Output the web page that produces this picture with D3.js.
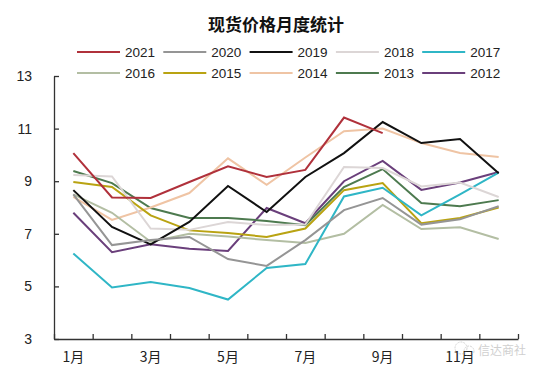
<!DOCTYPE html>
<html>
<head>
<meta charset="utf-8">
<script src="https://cdn.jsdelivr.net/npm/d3@7"></script>
<style>
  body { margin: 0; background: #fff; }
  text { font-family: "Liberation Sans", Arial, "Noto Sans CJK SC", sans-serif; }
</style>
</head>
<body>
<script>
// 1. sizes
const w = 552;
const h = 375;

// 2. data
const months = [1, 2, 3, 4, 5, 6, 7, 8, 9, 10, 11, 12];
const years = ["2021", "2020", "2019", "2018", "2017", "2016", "2015", "2014", "2013", "2012"];
const y2021 = [10.07, 8.38, 8.36, 8.97, 9.57, 9.16, 9.43, 11.42, 10.83];
const y2020 = [8.5, 6.57, 6.76, 6.88, 6.04, 5.78, 6.76, 7.9, 8.36, 7.35, 7.55, 8.05];
const y2019 = [8.66, 7.26, 6.6, 7.45, 8.82, 7.83, 9.16, 10.07, 11.25, 10.45, 10.6, 9.3];
const y2018 = [9.24, 9.18, 7.2, 7.15, 7.45, 7.33, 7.35, 9.54, 9.5, 8.8, 8.95, 8.4];
const y2017 = [6.25, 4.96, 5.17, 4.94, 4.5, 5.7, 5.85, 8.42, 8.75, 7.7, 8.5, 9.33];
const y2016 = [8.5, 7.8, 6.7, 7.0, 6.9, 6.76, 6.65, 7.0, 8.1, 7.18, 7.25, 6.8];
const y2015 = [8.97, 8.78, 7.7, 7.13, 7.03, 6.88, 7.2, 8.66, 8.93, 7.4, 7.6, 8.0];
const y2014 = [8.4, 7.53, 8.0, 8.55, 9.87, 8.86, 9.9, 10.9, 11.0, 10.45, 10.07, 9.92];
const y2013 = [9.39, 8.93, 7.98, 7.6, 7.6, 7.49, 7.33, 8.78, 9.46, 8.17, 8.05, 8.28];
const y2012 = [7.8, 6.3, 6.6, 6.43, 6.35, 7.98, 7.4, 9.0, 9.77, 8.67, 8.95, 9.35];
const yTicks = [3, 5, 7, 9, 11, 13];
const colors = ["#b0313b", "#959595", "#111111", "#dcd6d6", "#2fb6c6",
                "#b3bea3", "#b9a312", "#efc4a4", "#4d7a4f", "#6a3f7b"];

const series = [y2021, y2020, y2019, y2018, y2017, y2016, y2015, y2014, y2013, y2012];

// 3. scales
const xScale = d3.scaleBand().domain(months).range([54, 518]);
const xEdge = d3.scaleLinear().domain([0, 12]).range([54, 518]);
const yScale = d3.scaleLinear().domain([3, 13]).range([339, 76]);

const svg = d3.select("body").append("svg")
  .attr("width", w)
  .attr("height", h);

// title
svg.append("text")
  .attr("x", 276).attr("y", 31)
  .attr("text-anchor", "middle")
  .style("font-family", "'Noto Sans CJK SC', sans-serif")
  .style("font-weight", "bold")
  .style("font-size", "17px")
  .attr("fill", "#111")
  .text("现货价格月度统计");

// legend, two rows of five
const legend = svg.append("g").selectAll("g")
  .data(years)
  .enter()
  .append("g")
  .attr("transform", (d, i) => "translate(" + (77 + (i % 5) * 86.3) + "," + (i < 5 ? 52 : 73) + ")");

legend.append("line")
  .attr("x1", 0).attr("x2", 43)
  .attr("stroke", (d, i) => colors[i])
  .attr("stroke-width", 2);

legend.append("text")
  .attr("x", 48).attr("dy", "0.36em")
  .style("font-size", "13.5px")
  .attr("fill", "#222")
  .text(d => d);

// 4. axes
const leftAxis = d3.axisLeft(yScale)
  .tickValues(yTicks)
  .tickSizeInner(-5)
  .tickSizeOuter(0)
  .tickPadding(22);

const bottomLabels = d3.axisBottom(xScale)
  .tickValues([1, 3, 5, 7, 9, 11])
  .tickFormat(d => d + "月")
  .tickSize(0)
  .tickPadding(13);

const bottomTicks = d3.axisBottom(xEdge)
  .tickValues(d3.range(0, 13))
  .tickFormat("")
  .tickSizeInner(-5)
  .tickSizeOuter(0);

const gy = svg.append("g")
  .attr("transform", "translate(54,0)")
  .call(leftAxis);
gy.selectAll("text").style("font-size", "14px").attr("fill", "#222");

const gx = svg.append("g")
  .attr("transform", "translate(0,339)")
  .call(bottomTicks);

const gxl = svg.append("g")
  .attr("transform", "translate(0,339)")
  .call(bottomLabels);
gxl.select(".domain").remove();
gxl.selectAll("text")
  .style("font-size", "14px")
  .style("font-family", "'Noto Sans CJK SC', sans-serif")
  .attr("fill", "#222");

svg.selectAll(".domain, .tick line")
  .attr("stroke", "#333")
  .attr("stroke-width", 1.3);

// 5. lines (draw older years first so 2021 sits on top)
const line = d3.line()
  .x((d, i) => xScale(months[i]) + xScale.bandwidth() / 2)
  .y(d => yScale(d));

svg.append("g").selectAll("path")
  .data(series.map((s, i) => ({ s: s, c: colors[i] })).reverse())
  .enter()
  .append("path")
  .attr("d", d => line(d.s))
  .attr("fill", "none")
  .attr("stroke", d => d.c)
  .attr("stroke-width", 2);

// watermark
const wm = svg.append("g").attr("opacity", 0.35);
wm.append("circle").attr("cx", 461).attr("cy", 348).attr("r", 6)
  .attr("fill", "none").attr("stroke", "#888").attr("stroke-dasharray", "2,1");
wm.append("circle").attr("cx", 469).attr("cy", 351).attr("r", 5)
  .attr("fill", "none").attr("stroke", "#888").attr("stroke-dasharray", "2,1");
wm.append("text")
  .attr("x", 478).attr("y", 355)
  .style("font-family", "'Noto Sans CJK SC', sans-serif")
  .style("font-size", "12px")
  .attr("fill", "#777")
  .text("信达商社");
</script>
</body>
</html>
